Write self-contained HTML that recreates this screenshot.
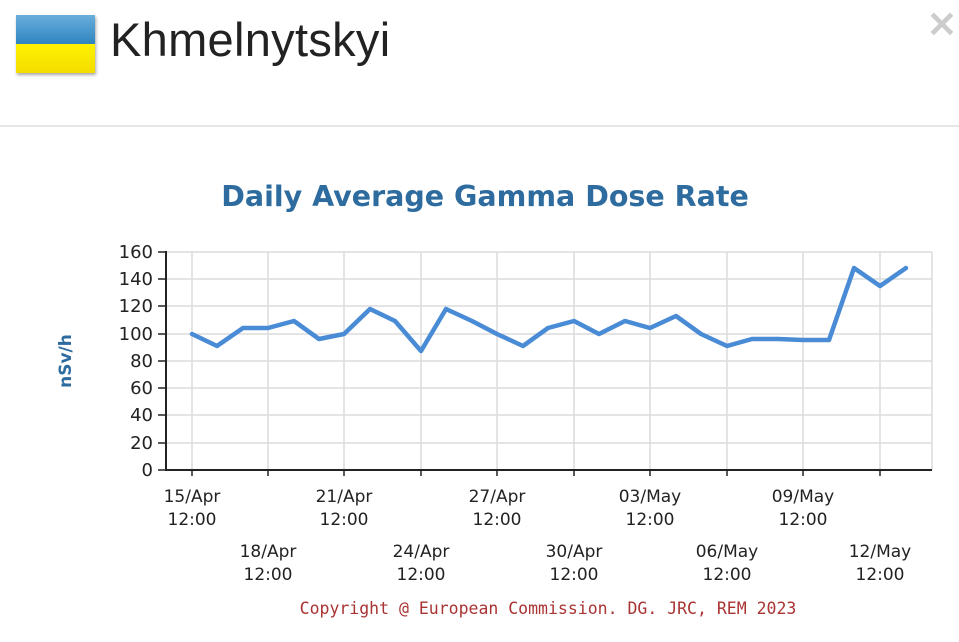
<!DOCTYPE html>
<html><head><style>
body{margin:0;width:959px;height:642px;background:#fff;overflow:hidden;font-family:"Liberation Sans",sans-serif;position:relative}
.flag{position:absolute;left:16px;top:15px;width:79px;height:58px;box-shadow:1px 2px 3px rgba(0,0,0,.35)}
.flag .b{height:29px;background:linear-gradient(#6aaedc,#2f85c0)}
.flag .y{height:29px;background:linear-gradient(#fff200,#f5dc00)}
h1{position:absolute;left:110px;top:12px;margin:0;font-size:47px;font-weight:normal;color:#222;letter-spacing:0.3px}
.x{position:absolute;right:2px;top:4px;font-size:36px;color:#ccc;font-weight:bold}
.hr{position:absolute;left:0;top:125px;width:959px;height:2px;background:#e6e6e6}
</style></head><body>
<div class="flag"><div class="b"></div><div class="y"></div></div>
<h1>Khmelnytskyi</h1>
<div class="x">✕</div>
<div class="hr"></div>
<svg width="959" height="642" style="position:absolute;left:0;top:0" font-family="Verdana, 'DejaVu Sans', sans-serif">
<text x="485" y="206" text-anchor="middle" font-size="28.5" font-weight="bold" fill="#2e6b9e">Daily Average Gamma Dose Rate</text>
<g stroke="#dcdcdc" stroke-width="1.5">
<line x1="166" y1="252" x2="932" y2="252"/><line x1="166" y1="279" x2="932" y2="279"/><line x1="166" y1="306" x2="932" y2="306"/><line x1="166" y1="334" x2="932" y2="334"/><line x1="166" y1="361" x2="932" y2="361"/><line x1="166" y1="388" x2="932" y2="388"/><line x1="166" y1="415" x2="932" y2="415"/><line x1="166" y1="443" x2="932" y2="443"/>
<line x1="192" y1="252" x2="192" y2="470"/><line x1="268" y1="252" x2="268" y2="470"/><line x1="344" y1="252" x2="344" y2="470"/><line x1="421" y1="252" x2="421" y2="470"/><line x1="497" y1="252" x2="497" y2="470"/><line x1="574" y1="252" x2="574" y2="470"/><line x1="650" y1="252" x2="650" y2="470"/><line x1="727" y1="252" x2="727" y2="470"/><line x1="803" y1="252" x2="803" y2="470"/><line x1="880" y1="252" x2="880" y2="470"/><line x1="932" y1="252" x2="932" y2="470"/>
</g>
<g stroke="#222" stroke-width="2"><line x1="166" y1="251" x2="166" y2="471"/><line x1="165" y1="470" x2="932" y2="470"/>
<g stroke-width="1.5"><line x1="158" y1="252" x2="166" y2="252"/><line x1="158" y1="279" x2="166" y2="279"/><line x1="158" y1="306" x2="166" y2="306"/><line x1="158" y1="334" x2="166" y2="334"/><line x1="158" y1="361" x2="166" y2="361"/><line x1="158" y1="388" x2="166" y2="388"/><line x1="158" y1="415" x2="166" y2="415"/><line x1="158" y1="443" x2="166" y2="443"/><line x1="158" y1="470" x2="166" y2="470"/>
<line x1="192" y1="470" x2="192" y2="476"/><line x1="268" y1="470" x2="268" y2="476"/><line x1="344" y1="470" x2="344" y2="476"/><line x1="421" y1="470" x2="421" y2="476"/><line x1="497" y1="470" x2="497" y2="476"/><line x1="574" y1="470" x2="574" y2="476"/><line x1="650" y1="470" x2="650" y2="476"/><line x1="727" y1="470" x2="727" y2="476"/><line x1="803" y1="470" x2="803" y2="476"/><line x1="880" y1="470" x2="880" y2="476"/></g></g>
<g font-size="18" fill="#222" text-anchor="end">
<text x="153" y="258">160</text><text x="153" y="285">140</text><text x="153" y="312">120</text><text x="153" y="340">100</text><text x="153" y="367">80</text><text x="153" y="394">60</text><text x="153" y="421">40</text><text x="153" y="449">20</text><text x="153" y="476">0</text>
</g>
<text transform="translate(71,361) rotate(-90)" text-anchor="middle" font-size="17" font-weight="bold" fill="#2e6b9e">nSv/h</text>
<g font-size="17" fill="#222" text-anchor="middle">
<text x="192" y="502">15/Apr</text><text x="192" y="525">12:00</text>
<text x="268" y="557">18/Apr</text><text x="268" y="580">12:00</text>
<text x="344" y="502">21/Apr</text><text x="344" y="525">12:00</text>
<text x="421" y="557">24/Apr</text><text x="421" y="580">12:00</text>
<text x="497" y="502">27/Apr</text><text x="497" y="525">12:00</text>
<text x="574" y="557">30/Apr</text><text x="574" y="580">12:00</text>
<text x="650" y="502">03/May</text><text x="650" y="525">12:00</text>
<text x="727" y="557">06/May</text><text x="727" y="580">12:00</text>
<text x="803" y="502">09/May</text><text x="803" y="525">12:00</text>
<text x="880" y="557">12/May</text><text x="880" y="580">12:00</text>
</g>
<polyline fill="none" stroke="#4a8bd6" stroke-width="4.5" stroke-linejoin="round" stroke-linecap="round" points="192,334 217,346 243,328 268,328 294,321 319,339 344,334 370,309 395,321 421,351 446,309 472,321 497,334 523,346 548,328 574,321 599,334 625,321 650,328 676,316 701,334 727,346 752,339 778,339 803,340 829,340 854,268 880,286 906,268"/>
<text x="548" y="614" text-anchor="middle" font-size="16.5" fill="#a33" font-family="'DejaVu Sans Mono','Liberation Mono',monospace">Copyright @ European Commission. DG. JRC, REM 2023</text>
</svg>
</body></html>
